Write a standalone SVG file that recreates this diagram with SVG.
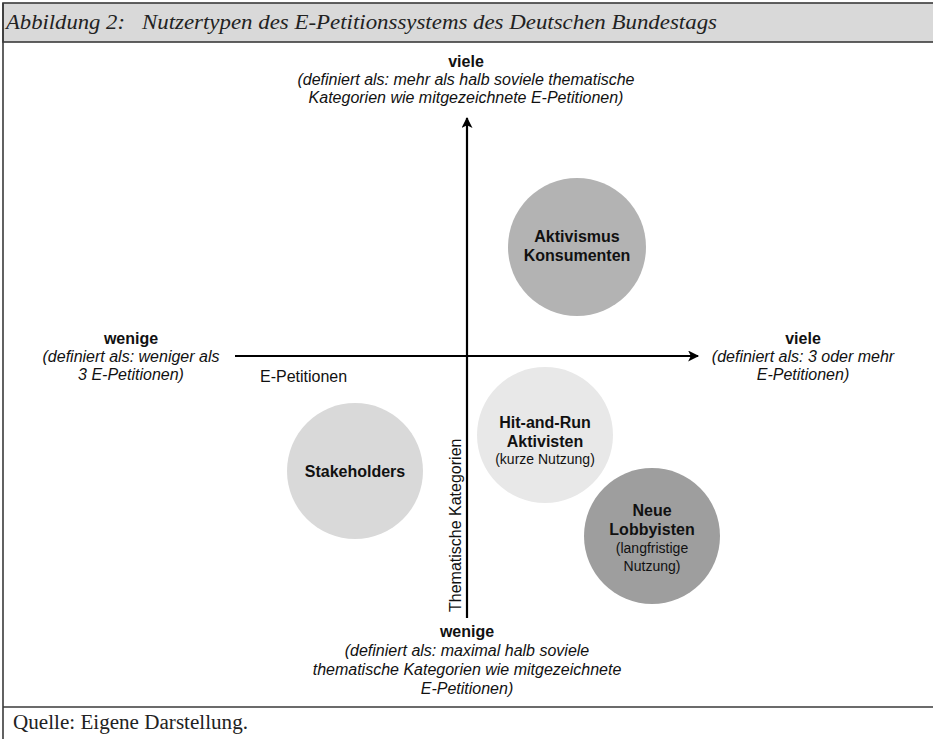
<svg xmlns="http://www.w3.org/2000/svg" width="933" height="739" viewBox="0 0 933 739">
<style>
.lbl{font-family:"Liberation Sans",Arial,sans-serif;font-size:16px;fill:#111;text-anchor:middle}
.b{font-weight:bold}
.i{font-style:italic}
.s{font-size:14px}
.axis{stroke:#000;stroke-width:2.2;fill:none}
.serif{font-family:"Liberation Serif","Times New Roman",serif;fill:#222}
</style>
<defs>
<marker id="ah" viewBox="0 0 10 10" refX="9" refY="5" markerWidth="6" markerHeight="5" markerUnits="strokeWidth" orient="auto">
<path d="M0,0 L10,5 L0,10 L2.5,5 Z" fill="#000"/>
</marker>
</defs>
<rect x="0" y="0" width="933" height="739" fill="#fff"/>
<g id="frame">
<rect x="3" y="3" width="932" height="39" fill="#d9d9d9" stroke="#3a3a3a" stroke-width="1.6"/>
<line x1="3" y1="3" x2="3" y2="739" stroke="#3a3a3a" stroke-width="1.6"/>
<line x1="3" y1="707" x2="933" y2="707" stroke="#3a3a3a" stroke-width="1.6"/>
<text class="serif" x="6" y="29" font-size="21" font-style="italic" textLength="119" lengthAdjust="spacingAndGlyphs">Abbildung 2:</text>
<text class="serif" x="142" y="29" font-size="21" font-style="italic" textLength="575" lengthAdjust="spacingAndGlyphs">Nutzertypen des E-Petitionssystems des Deutschen Bundestags</text>
<text class="serif" x="13" y="729" font-size="20" textLength="235" lengthAdjust="spacingAndGlyphs">Quelle: Eigene Darstellung.</text>
</g>
<g id="connectors">
<line class="axis" x1="235" y1="356" x2="698" y2="356" marker-end="url(#ah)"/>
<line class="axis" x1="467" y1="618" x2="467" y2="118" marker-end="url(#ah)"/>
</g>
<g id="axis-labels">
<text class="lbl b" x="466" y="67">viele</text>
<text class="lbl i" x="466" y="85">(definiert als: mehr als halb soviele thematische</text>
<text class="lbl i" x="466" y="103">Kategorien wie mitgezeichnete E-Petitionen)</text>
<text class="lbl b" x="131" y="344">wenige</text>
<text class="lbl i" x="131" y="362">(definiert als: weniger als</text>
<text class="lbl i" x="131" y="380">3 E-Petitionen)</text>
<text class="lbl b" x="803" y="344">viele</text>
<text class="lbl i" x="803" y="362">(definiert als: 3 oder mehr</text>
<text class="lbl i" x="803" y="380">E-Petitionen)</text>
<text class="lbl b" x="467" y="637">wenige</text>
<text class="lbl i" x="467" y="656">(definiert als: maximal halb soviele</text>
<text class="lbl i" x="467" y="675">thematische Kategorien wie mitgezeichnete</text>
<text class="lbl i" x="467" y="694">E-Petitionen)</text>
<text class="lbl" x="260" y="382" style="text-anchor:start">E-Petitionen</text>
<text class="lbl" transform="translate(461,612) rotate(-90)" style="text-anchor:start">Thematische Kategorien</text>
</g>
<g id="aktivismus">
<circle cx="577" cy="247" r="69" fill="#b3b3b3"/>
<text class="lbl b" x="577" y="242">Aktivismus</text>
<text class="lbl b" x="577" y="261">Konsumenten</text>
</g>
<g id="hitandrun">
<circle cx="545" cy="435" r="68" fill="#e8e8e8"/>
<text class="lbl b" x="545" y="428">Hit-and-Run</text>
<text class="lbl b" x="545" y="447">Aktivisten</text>
<text class="lbl s" x="545" y="464">(kurze Nutzung)</text>
</g>
<g id="stakeholders">
<circle cx="355" cy="471" r="68" fill="#d9d9d9"/>
<text class="lbl b" x="355" y="477">Stakeholders</text>
</g>
<g id="lobbyisten">
<circle cx="652" cy="536" r="68" fill="#9e9e9e"/>
<text class="lbl b" x="652" y="516">Neue</text>
<text class="lbl b" x="652" y="535">Lobbyisten</text>
<text class="lbl s" x="652" y="553">(langfristige</text>
<text class="lbl s" x="652" y="571">Nutzung)</text>
</g>
</svg>
